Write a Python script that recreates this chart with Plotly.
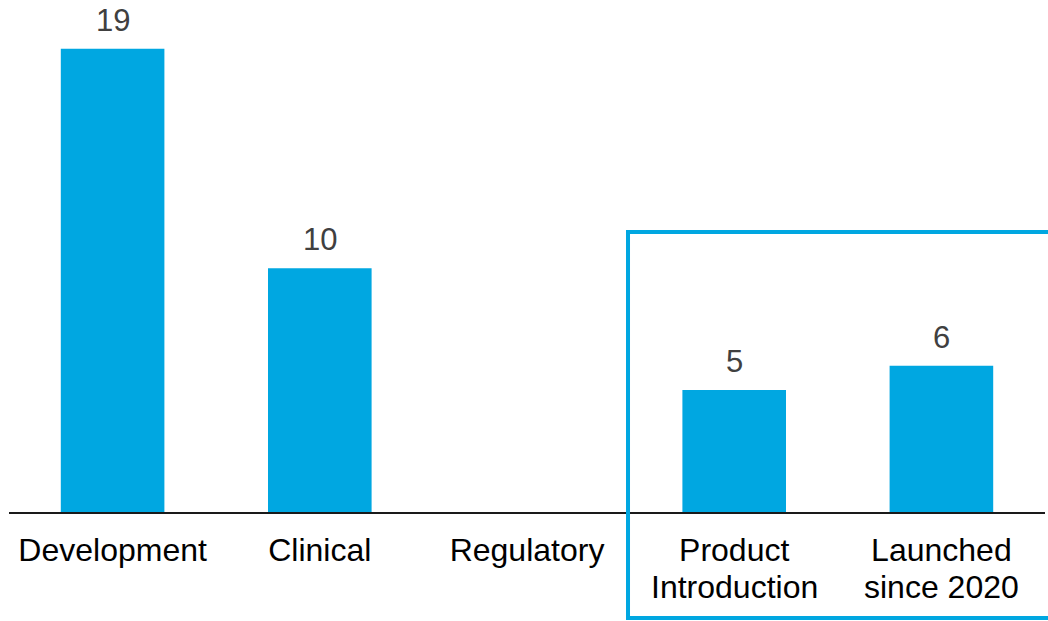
import plotly.graph_objects as go

categories = ["Development", "Clinical", "Regulatory", "Product Introduction", "Launched since 2020"]
label_line1 = ["Development", "Clinical", "Regulatory", "Product", "Launched"]
label_line2 = ["", "", "", "Introduction", "since 2020"]
values = [19, 10, None, 5, 6]
value_labels = ["19", "10", "", "5", "6"]

BLUE = "#00A7E1"
FONT = "Liberation Sans, Arial, sans-serif"

fig = go.Figure()
fig.add_trace(go.Bar(
    x=categories,
    y=values,
    marker=dict(color=BLUE, line=dict(width=0)),
    width=0.5,
    hoverinfo="skip",
))

for c, v, t in zip(categories, values, value_labels):
    if v is None or not t:
        continue
    fig.add_annotation(
        x=c, y=v, text=t, showarrow=False,
        xref="x", yref="y", yanchor="bottom", yshift=9,
        font=dict(family=FONT, size=31, color="#404040"),
    )

for c, t in zip(categories, label_line2):
    if not t:
        continue
    fig.add_annotation(
        x=c, y=0, text=t, showarrow=False,
        xref="x", yref="paper", yanchor="top", yshift=-55,
        font=dict(family=FONT, size=32, color="black"),
    )

fig.add_shape(
    type="rect", xref="paper", yref="paper",
    x0=0.5975, x1=1.02, y0=0.547, y1=-0.207,
    line=dict(color=BLUE, width=4),
    fillcolor="rgba(0,0,0,0)",
    layer="above",
)

fig.update_layout(
    width=1048, height=621,
    margin=dict(l=9, r=3, t=0, b=109, autoexpand=False),
    paper_bgcolor="white", plot_bgcolor="white",
    showlegend=False,
    font=dict(family=FONT),
    xaxis=dict(
        type="category",
        range=[-0.5, 4.5],
        automargin=False,
        tickmode="array", tickvals=categories, ticktext=label_line1,
        showline=True, linecolor="#1a1a1a", linewidth=2,
        showgrid=False, zeroline=False,
        ticks="", ticklabelstandoff=9,
        tickfont=dict(size=32, color="black", family=FONT),
    ),
    yaxis=dict(
        range=[0, 21], visible=False, showgrid=False, zeroline=False,
        automargin=False,
    ),
)

fig.write_html("out.html", config={"displayModeBar": False},
               post_script="document.body.style.margin='0';")
